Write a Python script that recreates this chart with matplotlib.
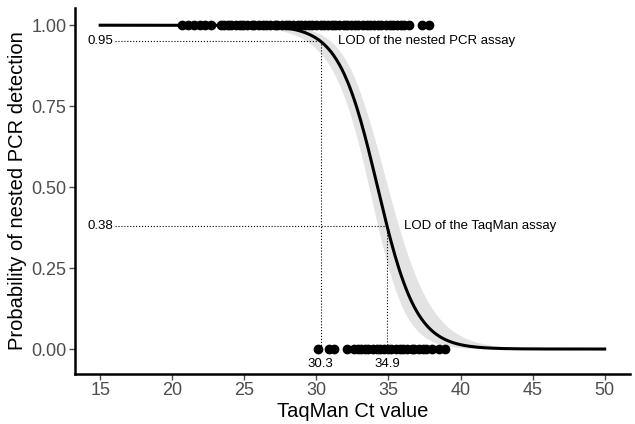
import numpy as np
import matplotlib
matplotlib.use('Agg')
import matplotlib.pyplot as plt

plt.rcParams['font.family'] = ['Liberation Sans', 'DejaVu Sans']

# fitted logistic model: logit(p) = intercept + slope * ct
intercept = 25.56
slope = -0.7464
# confidence band half-width on logit scale (se grows away from centre)
se0_sq = 0.05
se1_sq = 0.006
se_centre = 33.0

# observed Ct values, nested PCR positive (1) / negative (0)
ct_pos = [20.7, 21.1, 21.5, 21.9, 22.3, 22.7, 23.4, 23.6, 23.9, 24.1, 24.4,
          24.7, 24.9, 25.2, 25.5, 25.7, 26.0, 26.3, 26.5, 26.8, 27.1, 27.3,
          27.6, 27.9, 28.1, 28.4, 28.7, 28.9, 29.2, 29.5, 29.7, 30.0, 30.3,
          30.5, 30.8, 31.1, 31.3, 31.6, 31.9, 32.1, 32.4, 32.7, 32.9, 33.2,
          33.5, 33.7, 34.0, 34.3, 34.5, 34.8, 35.1, 35.3, 35.6, 35.9, 36.1,
          36.4, 37.3, 37.8]
ct_neg = [30.1, 30.9, 31.2, 32.1, 32.6, 32.9, 33.1, 33.4, 33.6, 33.9, 34.2,
          34.4, 34.7, 35.0, 35.2, 35.5, 35.8, 36.0, 36.3, 36.6, 36.8, 37.1,
          37.4, 37.6, 38.0, 38.5, 38.9]

lod_nested = 30.3
lod_nested_p = 0.95
lod_taqman = 34.9
lod_taqman_p = 0.38

x = np.linspace(15, 50, 400)
eta = intercept + slope * x
half = 1.96 * np.sqrt(se0_sq + se1_sq * (x - se_centre) ** 2)
p = 1 / (1 + np.exp(-eta))
lo = 1 / (1 + np.exp(-(eta - half)))
hi = 1 / (1 + np.exp(-(eta + half)))

fig = plt.figure(figsize=(6.35, 4.24), dpi=100)
ax = fig.add_axes([0.118, 0.118, 0.874, 0.863])

ax.fill_between(x, lo, hi, color='#e3e3e3', lw=0, zorder=1)

# LOD guide lines
ax.plot([16.0, lod_nested], [lod_nested_p, lod_nested_p], ls=':', color='black', lw=0.8, zorder=2)
ax.plot([lod_nested, lod_nested], [lod_nested_p, 0], ls=':', color='black', lw=0.8, zorder=2)
ax.plot([16.0, lod_taqman], [lod_taqman_p, lod_taqman_p], ls=':', color='black', lw=0.8, zorder=2)
ax.plot([lod_taqman, lod_taqman], [lod_taqman_p, 0], ls=':', color='black', lw=0.8, zorder=2)

ax.plot(ct_pos, np.ones(len(ct_pos)), 'o', color='black', ms=6, zorder=3)
ax.plot(ct_neg, np.zeros(len(ct_neg)), 'o', color='black', ms=6, zorder=3)
ax.plot(x, p, color='black', lw=2.2, zorder=4)

ax.text(15, lod_nested_p, '%.2f' % lod_nested_p, ha='center', va='center', fontsize=9.5)
ax.text(15, lod_taqman_p, '%.2f' % lod_taqman_p, ha='center', va='center', fontsize=9.5)
ax.text(lod_nested, -0.045, '%.1f' % lod_nested, ha='center', va='center', fontsize=9.5)
ax.text(lod_taqman, -0.045, '%.1f' % lod_taqman, ha='center', va='center', fontsize=9.5)
ax.text(31.5, lod_nested_p, 'LOD of the nested PCR assay', ha='left', va='center', fontsize=9.5)
ax.text(36.1, lod_taqman_p, 'LOD of the TaqMan assay', ha='left', va='center', fontsize=9.5)

ax.set_xlim(13.25, 51.75)
ax.set_ylim(-0.077, 1.053)
ax.set_xticks([15, 20, 25, 30, 35, 40, 45, 50])
ax.set_yticks([0, 0.25, 0.5, 0.75, 1.0])
ax.set_yticklabels(['0.00', '0.25', '0.50', '0.75', '1.00'])
ax.tick_params(labelsize=13, colors='#4d4d4d', labelcolor='#4d4d4d', length=4, width=1, pad=2)
for s in ['top', 'right']:
    ax.spines[s].set_visible(False)
for s in ['left', 'bottom']:
    ax.spines[s].set_linewidth(1.8)
ax.set_xlabel('TaqMan Ct value', fontsize=14.5, labelpad=2)
ax.set_ylabel('Probability of nested PCR detection', fontsize=14.5, labelpad=3)

fig.savefig('out.png', dpi=100)
